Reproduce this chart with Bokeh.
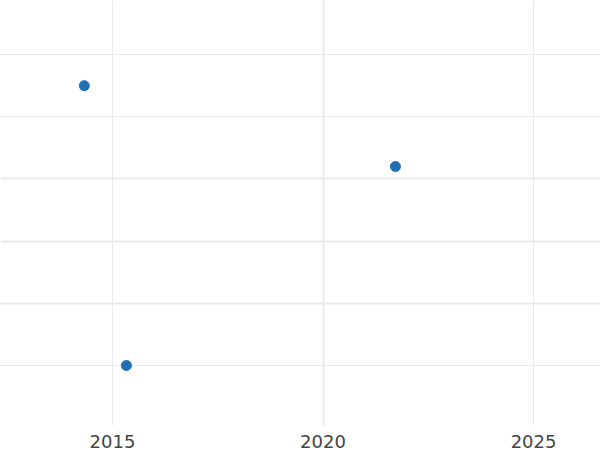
from bokeh.plotting import figure
from bokeh.models import Grid, FixedTicker, Range1d
from bokeh.embed import file_html
from bokeh.resources import INLINE

# data
years = [2014.33, 2021.72, 2015.33]
values = [5.50, 4.20, 1.00]
x_ticks = [2015, 2020, 2025]
x_thin = [2015, 2025]
x_thick = [2020]
y_thin = [1, 5, 6]
y_thick = [2, 3, 4]

p = figure(width=600, height=450, output_backend="svg", toolbar_location=None,
           x_range=Range1d(2012.34, 2026.59), y_range=Range1d(0.035, 6.87),
           min_border=0)
p.outline_line_color = None
p.background_fill_color = "white"
p.border_fill_color = "white"

p.xgrid.visible = False
p.ygrid.visible = False

grid_color = "#e9e9e9"
p.add_layout(Grid(dimension=0, ticker=FixedTicker(ticks=x_thin), grid_line_color=grid_color, grid_line_width=1))
p.add_layout(Grid(dimension=0, ticker=FixedTicker(ticks=x_thick), grid_line_color=grid_color, grid_line_width=2))
p.add_layout(Grid(dimension=1, ticker=FixedTicker(ticks=y_thin), grid_line_color=grid_color, grid_line_width=1))
p.add_layout(Grid(dimension=1, ticker=FixedTicker(ticks=y_thick), grid_line_color=grid_color, grid_line_width=2))

p.yaxis.visible = False
xa = p.xaxis[0]
xa.ticker = FixedTicker(ticks=x_ticks)
xa.axis_line_color = None
xa.major_tick_line_color = None
xa.minor_tick_line_color = None
xa.major_label_text_font = "DejaVu Sans"
xa.major_label_text_font_size = "18px"
xa.major_label_text_color = "#444444"
xa.major_label_standoff = 3

p.scatter(years, values, size=10, color="#1f6fb4", line_color="#1f6fb4")

open("out.html", "w").write(file_html(p, INLINE))
